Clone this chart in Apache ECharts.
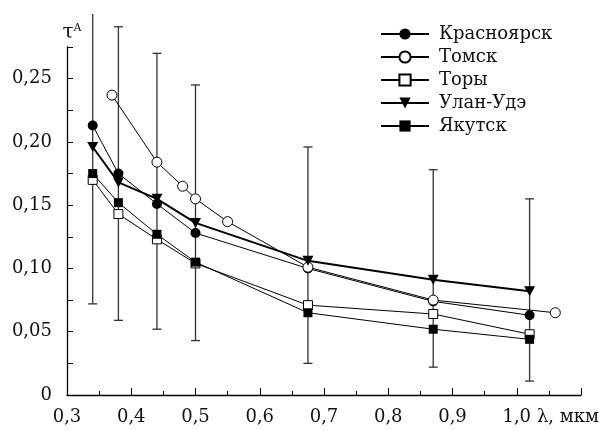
<!DOCTYPE html>
<html style="height: 100%">
<head>
    <meta charset="utf-8">
    <title>tau A</title>
    <script type="text/javascript" src="https://cdn.jsdelivr.net/npm/echarts@6/dist/echarts.min.js"></script>
</head>
<body style="height: 100%; margin: 0">
    <div id="container" style="width: 608px; height: 431px"></div>
    <script type="text/javascript">
        // длины волн, мкм
        var lam = [0.34, 0.38, 0.44, 0.5, 0.675, 0.87, 1.02];
        var lamTomsk = [0.37, 0.44, 0.48, 0.5, 0.55, 0.675, 0.87, 1.06];

        var krasnoyarsk = [0.213, 0.175, 0.151, 0.128, 0.100, 0.074, 0.063];
        var tomsk = [0.237, 0.184, 0.165, 0.155, 0.137, 0.101, 0.075, 0.065];
        var tory = [0.170, 0.143, 0.123, 0.104, 0.071, 0.064, 0.048];
        var ulanUde = [0.196, 0.168, 0.155, 0.136, 0.106, 0.091, 0.082];
        var yakutsk = [0.175, 0.152, 0.127, 0.105, 0.065, 0.052, 0.044];

        // разброс (низ / верх)
        var errLow = [0.072, 0.059, 0.052, 0.043, 0.025, 0.022, 0.011];
        var errHigh = [0.301, 0.291, 0.270, 0.245, 0.196, 0.178, 0.155];

        function pairs(xs, ys) {
            var out = [];
            for (var i = 0; i < ys.length; i++) out.push([xs[i], ys[i]]);
            return out;
        }

        var errData = [];
        for (var i = 0; i < lam.length; i++) errData.push([lam[i], errLow[i], errHigh[i]]);

        function renderErr(params, api) {
            var x = api.value(0);
            var lo = api.coord([x, api.value(1)]);
            var hi = api.coord([x, api.value(2)]);
            var w = 4.5;
            var st = { stroke: '#333', lineWidth: 1.3 };
            var parts = [
                { type: 'line', shape: { x1: lo[0], y1: lo[1], x2: hi[0], y2: hi[1] }, style: st },
                { type: 'line', shape: { x1: lo[0] - w, y1: lo[1], x2: lo[0] + w, y2: lo[1] }, style: st }
            ];
            // у первого столбика верхней засечки нет
            if (params.dataIndex > 0) {
                parts.push({ type: 'line', shape: { x1: hi[0] - w, y1: hi[1], x2: hi[0] + w, y2: hi[1] }, style: st });
            }
            return { type: 'group', children: parts };
        }

        var font = 'DejaVu Serif';
        var myChart = echarts.init(document.getElementById('container'));

        var option = {
            animation: false,
            backgroundColor: '#fff',
            textStyle: { fontFamily: font, color: '#111' },
            grid: { left: 67, right: 27, top: 47, bottom: 36 },
            legend: {
                orient: 'vertical',
                left: 380,
                top: 25,
                padding: 0,
                itemWidth: 48,
                itemHeight: 14,
                itemGap: 5,
                textStyle: { fontFamily: font, fontSize: 18, color: '#111', padding: [0, 0, 0, 5] },
                data: ['Красноярск', 'Томск', 'Торы', 'Улан-Удэ', 'Якутск']
            },
            xAxis: {
                type: 'value',
                min: 0.3,
                max: 1.1,
                interval: 0.1,
                name: 'λ, мкм',
                nameLocation: 'end',
                nameGap: -46,
                nameTextStyle: { fontFamily: font, fontSize: 18, color: '#111', verticalAlign: 'top', padding: [13, 0, 0, 0] },
                axisLine: { lineStyle: { color: '#000', width: 1.3 } },
                axisTick: { inside: true, length: 7, lineStyle: { color: '#000' } },
                minorTick: { show: true, splitNumber: 2, length: 4, lineStyle: { color: '#000' } },
                splitLine: { show: false },
                axisLabel: {
                    fontFamily: font, fontSize: 18, color: '#111', margin: 13,
                    formatter: function (v) {
                        if (v > 1.05) return '';
                        return v.toFixed(1).replace('.', ',');
                    }
                }
            },
            yAxis: {
                type: 'value',
                min: 0,
                max: 0.275,
                interval: 0.025,
                name: '{t|τ}{s|A}',
                nameLocation: 'end',
                nameGap: 4,
                nameTextStyle: {
                    padding: [0, 0, 0, 10],
                    rich: {
                        t: { fontFamily: font, fontSize: 20, color: '#111', verticalAlign: 'bottom' },
                        s: { fontFamily: font, fontSize: 11, color: '#111', verticalAlign: 'top' }
                    }
                },
                axisLine: { show: true, lineStyle: { color: '#000', width: 1.3 } },
                axisTick: { show: true, inside: true, length: 6, lineStyle: { color: '#000' } },
                splitLine: { show: false },
                axisLabel: {
                    fontFamily: font, fontSize: 18, color: '#111', margin: 15,
                    formatter: function (v) {
                        var k = Math.round(v * 1000);
                        if (k % 50 !== 0) return '';
                        if (k === 0) return '0';
                        return v.toFixed(2).replace('.', ',');
                    }
                }
            },
            series: [
                {
                    name: 'err',
                    type: 'custom',
                    renderItem: renderErr,
                    encode: { x: 0, y: [1, 2] },
                    data: errData,
                    z: 1
                },
                {
                    name: 'Красноярск',
                    type: 'line',
                    symbol: 'circle',
                    symbolSize: 10,
                    itemStyle: { color: '#000' },
                    lineStyle: { color: '#000', width: 1 },
                    data: pairs(lam, krasnoyarsk),
                    z: 3
                },
                {
                    name: 'Томск',
                    type: 'line',
                    symbol: 'circle',
                    symbolSize: 10,
                    itemStyle: { color: '#fff', borderColor: '#000', borderWidth: 1 },
                    lineStyle: { color: '#000', width: 1 },
                    data: pairs(lamTomsk, tomsk),
                    z: 3
                },
                {
                    name: 'Торы',
                    type: 'line',
                    symbol: 'rect',
                    symbolSize: 9,
                    itemStyle: { color: '#fff', borderColor: '#000', borderWidth: 1 },
                    lineStyle: { color: '#000', width: 1 },
                    data: pairs(lam, tory),
                    z: 3
                },
                {
                    name: 'Улан-Удэ',
                    type: 'line',
                    symbol: 'triangle',
                    symbolRotate: 180,
                    symbolSize: [11, 10],
                    itemStyle: { color: '#000' },
                    lineStyle: { color: '#000', width: 2 },
                    data: pairs(lam, ulanUde),
                    z: 3
                },
                {
                    name: 'Якутск',
                    type: 'line',
                    symbol: 'rect',
                    symbolSize: 9,
                    itemStyle: { color: '#000' },
                    lineStyle: { color: '#000', width: 1 },
                    data: pairs(lam, yakutsk),
                    z: 3
                }
            ]
        };

        myChart.setOption(option);
    </script>
</body>
</html>
